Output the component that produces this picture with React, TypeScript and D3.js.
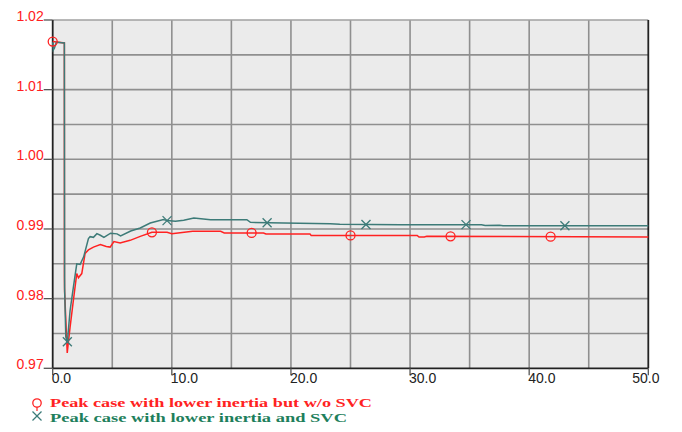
import React from "react";
import * as d3 from "d3";

// Series: Peak case with lower inertia but w/o SVC (red)
const redT = [0, 0.98, 0.985, 1.0, 1.1, 1.22, 1.3, 1.46, 1.74, 2.02, 2.16, 2.44, 2.72, 3.0, 3.42, 4.0, 4.5, 4.82, 5.14, 5.66, 6.5, 7.35, 8.33, 9.6, 10.0, 11.75, 14.1, 14.4, 17.7, 17.9, 21.6, 21.7, 30.6, 30.75, 31.2, 31.4, 50];
const redV = [1.0169, 1.0167, 0.9831, 0.981, 0.977, 0.9722, 0.9735, 0.9759, 0.9798, 0.9836, 0.983, 0.9836, 0.9865, 0.987, 0.9874, 0.98775, 0.9875, 0.9874, 0.9882, 0.988, 0.98837, 0.98894, 0.98952, 0.98952, 0.98933, 0.98966, 0.98966, 0.98943, 0.98943, 0.98928, 0.98928, 0.98908, 0.98908, 0.98885, 0.98885, 0.98895, 0.98885];

// Series: Peak case with lower inertia and SVC (teal)
const tealT = [0, 0.05, 0.15, 0.3, 0.98, 1.0, 1.1, 1.23, 1.46, 1.74, 2.02, 2.3, 2.6, 3.0, 3.14, 3.42, 3.71, 4.0, 4.3, 4.86, 5.4, 5.7, 6.55, 7.35, 8.19, 9.3, 9.6, 10.3, 11.0, 11.85, 13.25, 16.3, 16.6, 19.4, 23.3, 24.1, 29.2, 36.0, 36.3, 37.5, 37.8, 50];
const tealV = [1.0168, 1.0157, 1.016, 1.0168, 1.0167, 0.9815, 0.9745, 0.9738, 0.9783, 0.9817, 0.985, 0.9849, 0.986, 0.98863, 0.9889, 0.9888, 0.98933, 0.9891, 0.9888, 0.9894, 0.9893, 0.989, 0.9897, 0.99014, 0.99086, 0.99134, 0.9912, 0.9911, 0.99124, 0.99158, 0.99134, 0.99134, 0.99095, 0.99086, 0.99076, 0.99067, 0.99062, 0.99062, 0.9905, 0.99055, 0.99047, 0.99047];

// Marker positions (time)
const redMarkT = [0, 8.33, 16.7, 25.0, 33.4, 41.8];
const tealMarkT = [1.23, 9.6, 18.0, 26.3, 34.7, 43.0];

const xTicks = [0, 10, 20, 30, 40, 50];
const yTicks = [0.97, 0.98, 0.99, 1.0, 1.01, 1.02];
const xGrid = [5, 10, 15, 20, 25, 30, 35, 40, 45];
const yGrid = [0.975, 0.98, 0.985, 0.99, 0.995, 1.0, 1.005, 1.01, 1.015];

const legendLabels = [
  "Peak case with lower inertia but w/o SVC",
  "Peak case with lower inertia and SVC",
];

const RED = "#ff2222";
const TEAL = "#3d7b78";
const GREEN_TXT = "#1e7f5c";

function interp(ts: number[], vs: number[], t: number) {
  const i = d3.bisectRight(ts, t);
  if (i <= 0) return vs[0];
  if (i >= ts.length) return vs[vs.length - 1];
  const t0 = ts[i - 1], t1 = ts[i];
  const f = t1 === t0 ? 0 : (t - t0) / (t1 - t0);
  return vs[i - 1] + f * (vs[i] - vs[i - 1]);
}

export default function App() {
  const W = 682, H = 432;
  const L = 52.7, R = 648.3, T = 20, B = 368.3;
  const x = d3.scaleLinear().domain([0, 50]).range([L, R]);
  const y = d3.scaleLinear().domain([0.97, 1.02]).range([B, T]);
  const line = d3.line<[number, number]>().x((d) => x(d[0])).y((d) => y(d[1]));
  const redPts = redT.map((t, i) => [t, redV[i]] as [number, number]);
  const tealPts = tealT.map((t, i) => [t, tealV[i]] as [number, number]);

  const xMark = (cx: number, cy: number, s: number, color: string, key?: any) => (
    <g key={key} stroke={color} strokeWidth={1.3}>
      <line x1={cx - s} y1={cy - s} x2={cx + s} y2={cy + s} />
      <line x1={cx - s} y1={cy + s} x2={cx + s} y2={cy - s} />
    </g>
  );

  return (
    <svg width={W} height={H} style={{ position: "absolute", left: 0, top: 0, background: "#fff" }}>
      <rect x={L} y={T} width={R - L} height={B - T} fill="#ebebeb" />
      {xGrid.map((g) => (
        <line key={"xg" + g} x1={x(g)} x2={x(g)} y1={T} y2={B} stroke="#8f8f8f" strokeWidth={1.6} />
      ))}
      {yGrid.map((g) => (
        <line key={"yg" + g} x1={L} x2={R} y1={y(g)} y2={y(g)} stroke="#8f8f8f" strokeWidth={1.6} />
      ))}
      <line x1={L} x2={R} y1={T} y2={T} stroke="#a0a0a0" strokeWidth={1.5} />
      <line x1={R} x2={R} y1={T} y2={B} stroke="#222" strokeWidth={1.8} />
      <line x1={L} x2={L} y1={T} y2={B} stroke="#222" strokeWidth={1.8} />
      <line x1={L} x2={R} y1={B} y2={B} stroke="#222" strokeWidth={1.8} />

      {yTicks.map((v) => (
        <g key={"yt" + v}>
          <line x1={L - 9} x2={L} y1={y(v)} y2={y(v)} stroke="#555" strokeWidth={1.3} />
          <text x={L - 9} y={y(v) + 1} textAnchor="end" fill="#ff2020" fontSize={14} fontFamily="Liberation Sans, Arial, sans-serif">
            {v.toFixed(2)}
          </text>
        </g>
      ))}
      {xTicks.map((v, i) => (
        <g key={"xt" + v}>
          <line x1={x(v)} x2={x(v)} y1={B} y2={B + 7} stroke="#555" strokeWidth={1.3} />
          <text x={i === xTicks.length - 1 ? x(v) - 16 : x(v) - 1} y={B + 15} textAnchor="start" fill="#222" fontSize={14} fontFamily="Liberation Sans, Arial, sans-serif">
            {v.toFixed(1)}
          </text>
        </g>
      ))}

      <path d={line(redPts) || ""} fill="none" stroke={RED} strokeWidth={1.5} />
      <path d={line(tealPts) || ""} fill="none" stroke={TEAL} strokeWidth={1.5} />

      {redMarkT.map((t, i) => (
        <circle key={"rm" + i} cx={x(t)} cy={y(interp(redT, redV, t))} r={4.5} fill="none" stroke={RED} strokeWidth={1.3} />
      ))}
      {tealMarkT.map((t, i) => xMark(x(t), y(interp(tealT, tealV, t)), 4.5, TEAL, "tm" + i))}

      <circle cx={37} cy={403} r={4.2} fill="none" stroke={RED} strokeWidth={1.3} />
      <line x1={37} x2={37} y1={407} y2={411} stroke={RED} strokeWidth={1.2} />
      {xMark(37, 416, 4.5, TEAL)}
      <text x={50} y={407} fill={RED} fontSize={13} fontWeight="bold" fontFamily="Liberation Serif, DejaVu Serif, serif" textLength={322} lengthAdjust="spacingAndGlyphs">
        {legendLabels[0]}
      </text>
      <text x={50} y={422} fill={GREEN_TXT} fontSize={13} fontWeight="bold" fontFamily="Liberation Serif, DejaVu Serif, serif" textLength={297} lengthAdjust="spacingAndGlyphs">
        {legendLabels[1]}
      </text>
    </svg>
  );
}
